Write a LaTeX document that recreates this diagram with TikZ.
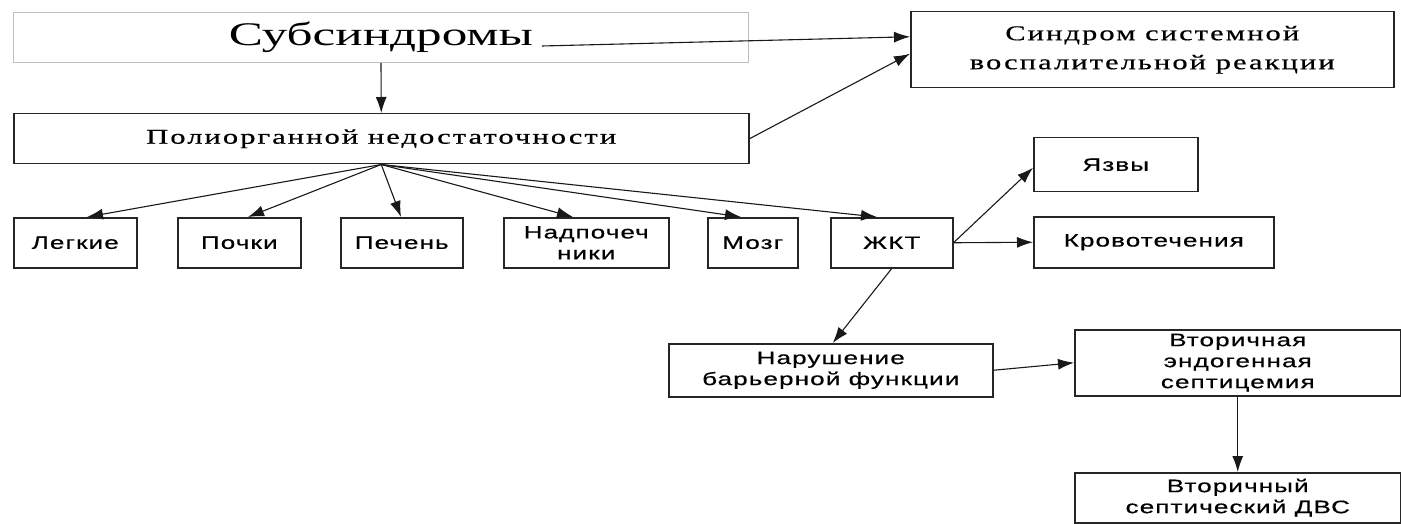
\documentclass[tikz,border=0pt]{standalone}
\usepackage{fontspec}
\setmainfont{Liberation Serif}
\newfontfamily\titlef[FakeStretch=1.55]{Liberation Serif}
\newfontfamily\serifsp[FakeStretch=1.45,LetterSpace=10,FakeBold=0.6]{Liberation Serif}
\newfontfamily\sansf[FakeStretch=1.45,LetterSpace=6,FakeBold=0.5]{Liberation Sans}
\usetikzlibrary{arrows.meta,calc}
\begin{document}
\begin{tikzpicture}[x=1pt,y=-1pt,
  box/.style={draw=black!85, line width=1.5pt, inner sep=0pt, anchor=north west,
    align=center, font=\sansf\fontsize{18}{21}\selectfont},
  serifbox/.style={box, font=\serifsp\fontsize{21}{29}\selectfont},
  titlebox/.style={box, draw=black!25, line width=1pt, font=\titlef\fontsize{33}{36}\selectfont},
  arr/.style={-{Latex[length=16pt,width=11pt]}, line width=1.1pt, draw=black!90}]
\useasboundingbox (0,0) rectangle (1401,524);
\fill[white] (0,0) rectangle (1401,524);

% top
\node[titlebox, minimum width=735, minimum height=50] (sub) at (13,12) {Субсиндромы};
\node[serifbox, minimum width=735, minimum height=50] (poly) at (13,113) {Полиорганной недостаточности};
\node[serifbox, minimum width=483, minimum height=76] (synd) at (910,11) {Синдром системной\\воспалительной реакции};

% row
\node[box, minimum width=123, minimum height=50] (legk) at (13,217) {Легкие};
\node[box, minimum width=123, minimum height=50] (pochk) at (177,217) {Почки};
\node[box, minimum width=122, minimum height=50] (pech) at (340,217) {Печень};
\node[box, minimum width=165, minimum height=50] (nadp) at (503,217) {Надпочеч\\ники};
\node[box, minimum width=90, minimum height=50] (mozg) at (707,217) {Мозг};
\node[box, minimum width=122, minimum height=50] (jkt) at (830,217) {ЖКТ};

\node[box, minimum width=164, minimum height=54] (yazv) at (1033,137) {Язвы};
\node[box, minimum width=240, minimum height=51] (krov) at (1033,216) {Кровотечения};

\node[box, minimum width=324, minimum height=53] (nar) at (668,343) {Нарушение\\барьерной функции};
\node[box, minimum width=326, minimum height=66] (vtor) at (1074,329) {Вторичная\\эндогенная\\септицемия};
\node[box, minimum width=326, minimum height=50] (dvs) at (1074,472) {Вторичный\\септический ДВС};

% connectors
\coordinate (subline) at (542,46);
\draw[arr] (subline) -- ($(synd.west)+(0,-13)$);
\draw[arr] (sub.south) -- (poly.north);
\draw[arr] (poly.east) -- ($(synd.west)+(0,4)$);

\draw[arr] (poly.south) -- ($(legk.north west)+(74,0)$);
\draw[arr] (poly.south) -- ($(pochk.north west)+(71,0)$);
\draw[arr] (poly.south) -- ($(pech.north west)+(61,0)$);
\draw[arr] (poly.south) -- ($(nadp.north west)+(70,0)$);
\draw[arr] (poly.south) -- ($(mozg.north west)+(34,0)$);
\draw[arr] (poly.south) -- ($(jkt.north west)+(47,0)$);

\draw[arr] (jkt.east) -- ($(yazv.west)+(0,3)$);
\draw[arr] (jkt.east) -- (krov.west);
\draw[arr] (jkt.south) -- ($(nar.north)+(2,0)$);
\draw[arr] (nar.east) -- (vtor.west);
\draw[arr] (vtor.south) -- (dvs.north);
\end{tikzpicture}
\end{document}
